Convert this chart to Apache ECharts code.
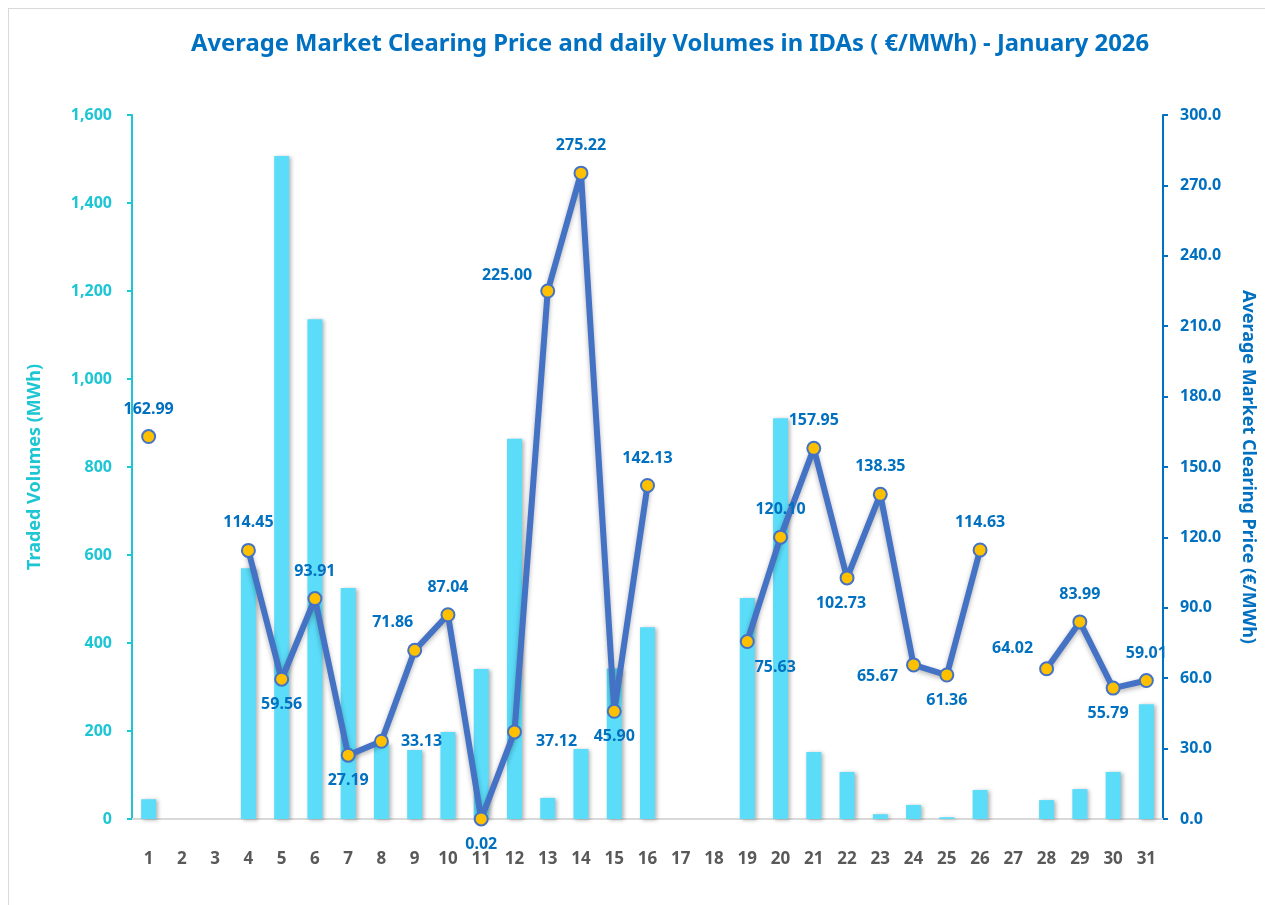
<!DOCTYPE html>
<html><head><meta charset="utf-8">
<script src="https://cdn.jsdelivr.net/npm/echarts@6/dist/echarts.min.js"></script>
<style>
html,body{margin:0;padding:0;background:#fff;}
#frame{position:absolute;left:8px;top:8px;width:1270px;height:910px;border:1px solid #D9D9D9;box-sizing:border-box;}
#c{position:absolute;left:0;top:0;width:1265px;height:905px;}
</style>
</head><body>
<div id="frame"></div>
<div id="c"></div>
<script>
const days = ['1','2','3','4','5','6','7','8','9','10','11','12','13','14','15','16','17','18','19','20','21','22','23','24','25','26','27','28','29','30','31'];
const volumes = [45,null,null,570,1507,1136,525,172,157,198,341,864,48,159,342,436,null,null,502,911,152,107,11,32,4,66,null,43,68,107,261];
const prices = [162.99,null,null,114.45,59.56,93.91,27.19,33.13,71.86,87.04,0.02,37.12,225.00,275.22,45.90,142.13,null,null,75.63,120.10,157.95,102.73,138.35,65.67,61.36,114.63,null,64.02,83.99,55.79,59.01];
const volTicks = [0,200,400,600,800,1000,1200,1400,1600];
const priceTicks = [0,30,60,90,120,150,180,210,240,270,300];

// label placement per day (style only)
const labelPlace = {
  '1':['top',[0,-4]], '4':['top',[0,-4]], '5':['bottom',[0,2]], '6':['top',[0,-4]], '7':['bottom',[0,2]],
  '8':['right',[4,0]], '9':['top',[-22,-4]], '10':['top',[0,-4]], '11':['bottom',[0,2]],
  '12':['right',[6,10]], '13':['left',[0,-16]], '14':['top',[0,-4]], '15':['bottom',[0,2]], '16':['top',[0,-4]],
  '19':['bottom',[28,2]], '20':['top',[0,-4]], '21':['top',[0,-4]], '22':['bottom',[-6,2]], '23':['top',[0,-4]],
  '24':['left',[0,12]], '25':['bottom',[0,2]], '26':['top',[0,-4]], '28':['left',[2,-20]], '29':['top',[0,-4]],
  '30':['bottom',[-5,2]], '31':['top',[0,-4]]
};

const priceData = prices.map((v,i)=>{
  if (v === null) return null;
  const p = labelPlace[days[i]] || ['top',[0,0]];
  return {value: v, label: {position: p[0], offset: p[1]}};
});

const chart = echarts.init(document.getElementById('c'));
chart.setOption({
  backgroundColor: 'transparent',
  animation: false,
  title: {
    text: 'Average Market Clearing Price and daily Volumes in IDAs ( €/MWh) - January 2026',
    left: 186, top: 27,
    textStyle: {color:'#0070C0', fontSize: 23.8, fontWeight:'bold', fontFamily:'Noto Sans'}
  },
  grid: {left:132, right:99, top:115, bottom:86},
  xAxis: {
    type:'category', data: days,
    axisLine:{lineStyle:{color:'#D9D9D9', width:2}},
    axisTick:{show:false},
    axisLabel:{color:'#595959', fontSize:17, fontWeight:'bold', fontFamily:'Noto Sans', margin:32, interval:0}
  },
  yAxis: [
    {
      type:'value', min:volTicks[0], max:volTicks[volTicks.length-1], interval:200,
      name:'Traded Volumes (MWh)', nameLocation:'middle', nameGap:88,
      nameTextStyle:{color:'#1CC6D2', fontSize:18, fontWeight:'bold', fontFamily:'Noto Sans'},
      axisLine:{show:true, lineStyle:{color:'#1CC6D2', width:2}},
      axisTick:{show:true, inside:false, length:5, lineStyle:{color:'#1CC6D2', width:2}},
      splitLine:{show:false},
      axisLabel:{color:'#1CC6D2', fontSize:16, fontWeight:'bold', fontFamily:'Noto Sans', margin:20,
        formatter: v => v.toLocaleString('en-US')}
    },
    {
      type:'value', min:priceTicks[0], max:priceTicks[priceTicks.length-1], interval:30,
      position:'right',
      name:'Average Market Clearing Price (€/MWh)', nameLocation:'middle', nameGap:76, nameRotate:-90,
      nameTextStyle:{color:'#0070C0', fontSize:18, fontWeight:'bold', fontFamily:'Noto Sans'},
      axisLine:{show:true, lineStyle:{color:'#0070C0', width:2}},
      axisTick:{show:true, inside:false, length:5, lineStyle:{color:'#0070C0', width:2}},
      splitLine:{show:false},
      axisLabel:{color:'#0070C0', fontSize:16, fontWeight:'bold', fontFamily:'Noto Sans', margin:17,
        formatter: v => v.toFixed(1)}
    }
  ],
  series: [
    {
      type:'bar', name:'Volumes', yAxisIndex:0, data: volumes, barWidth:15,
      itemStyle:{color:'#5BDCF9', shadowBlur:4, shadowColor:'rgba(0,0,0,0.3)', shadowOffsetX:2, shadowOffsetY:1}
    },
    {
      type:'line', name:'Price', yAxisIndex:1, data: priceData, connectNulls:false,
      symbol:'circle', symbolSize:13,
      lineStyle:{color:'#4472C4', width:6, shadowBlur:5, shadowColor:'rgba(0,0,0,0.3)', shadowOffsetY:2},
      itemStyle:{color:'#FFC000', borderColor:'#4472C4', borderWidth:2},
      label:{show:true, color:'#0070C0', fontSize:16, fontWeight:'bold', fontFamily:'Noto Sans',
        formatter: p => Number(p.value).toFixed(2), distance:8}
    }
  ]
});
</script>
</body></html>
